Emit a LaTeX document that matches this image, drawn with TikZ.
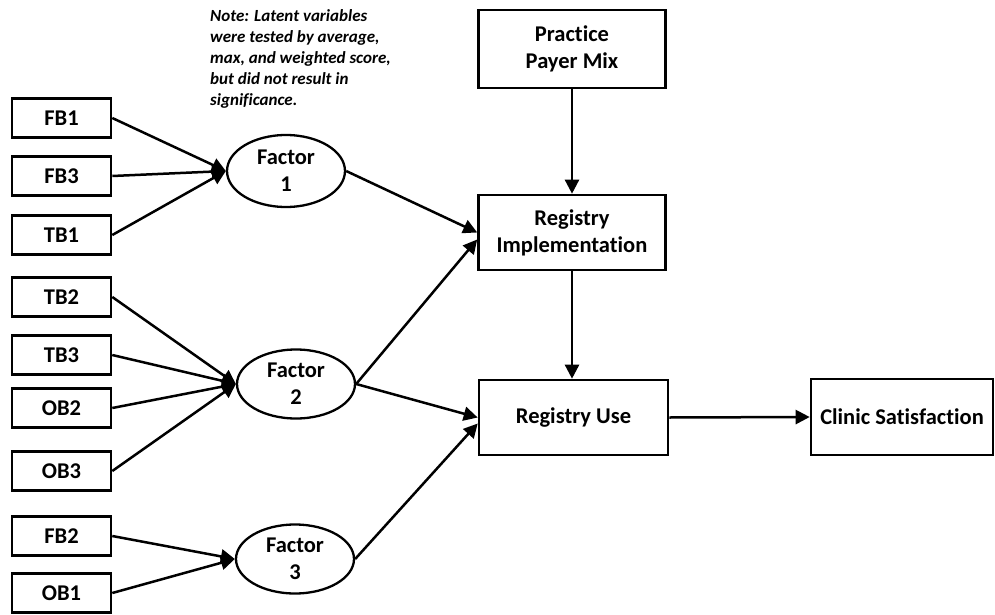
\documentclass[tikz,border=0pt]{standalone}
\usepackage{fontspec}
\setmainfont{Carlito}[Ligatures=NoCommon]
\usetikzlibrary{arrows.meta,shapes.geometric}

\tikzset{
  base/.style={draw=black, line width=2.6pt, inner sep=0pt, align=center,
    font=\fontsize{22.5}{27}\selectfont\bfseries},
  lbox/.style={base, rectangle, minimum width=99pt, minimum height=39pt},
  bigbox/.style={base, rectangle, minimum width=187pt, minimum height=76pt},
  factor/.style={base, line width=2.3pt, ellipse, minimum width=118pt, minimum height=69pt},
  link/.style={line width=2.5pt, -{Triangle[length=14pt,width=14pt]}},
  notetext/.style={inner sep=0pt, align=left, anchor=north west,
    font=\fontsize{17}{21}\selectfont\bfseries\itshape}
}

\begin{document}
\begin{tikzpicture}[x=1pt, y=-1pt]
\useasboundingbox (0,0) rectangle (995,615);

% indicator boxes
\node[lbox] (FB1) at (61.5,118) {FB1};
\node[lbox] (FB3) at (61.5,176) {FB3};
\node[lbox] (TB1) at (61.5,235) {TB1};
\node[lbox] (TB2) at (61.5,297) {TB2};
\node[lbox] (TB3) at (61.5,355) {TB3};
\node[lbox] (OB2) at (61.5,408) {OB2};
\node[lbox] (OB3) at (61.5,471) {OB3};
\node[lbox] (FB2) at (61.5,536) {FB2};
\node[lbox] (OB1) at (61.5,593) {OB1};

% latent factors
\node[factor, minimum height=72pt] (F1) at (286,171) {Factor\\1};
\node[factor] (F2) at (296,384) {Factor\\2};
\node[factor] (F3) at (295,559) {Factor\\3};

% outcome boxes
\node[bigbox, minimum height=78pt] (PPM) at (572,49) {Practice\\Payer Mix};
\node[bigbox, minimum height=75pt] (RI) at (572,232.5) {Registry\\Implementation};
\node[bigbox, minimum width=189pt, minimum height=75pt] (RU) at (573.5,417.5) {Registry Use};
\node[bigbox, minimum width=182pt, minimum height=76pt] (CS) at (902,417) {Clinic Satisfaction};

% note
\node[notetext] (note) at (210,9) {Note: Latent variables\\were tested by average,\\max, and weighted score,\\but did not result in\\significance.};

% indicators to factors
\foreach \s in {FB1,FB3,TB1} \draw[link] (\s.east) -- (F1.west);
\foreach \s in {TB2,TB3,OB2,OB3} \draw[link] (\s.east) -- (F2.west);
\foreach \s in {FB2,OB1} \draw[link] (\s.east) -- (F3.west);

% factors to registry
\draw[link] (F1.east) -- (RI.west);
\draw[link] (F2.east) -- ([yshift=-7pt]RI.west);
\draw[link] (F2.east) -- (RU.west);
\draw[link] (F3.east) -- ([yshift=-6pt]RU.west);

% main path
\draw[link] (PPM.south) -- (RI.north);
\draw[link] (RI.south) -- (RI.south |- RU.north);
\draw[link] (RU.east) -- (CS.west);
\end{tikzpicture}
\end{document}
